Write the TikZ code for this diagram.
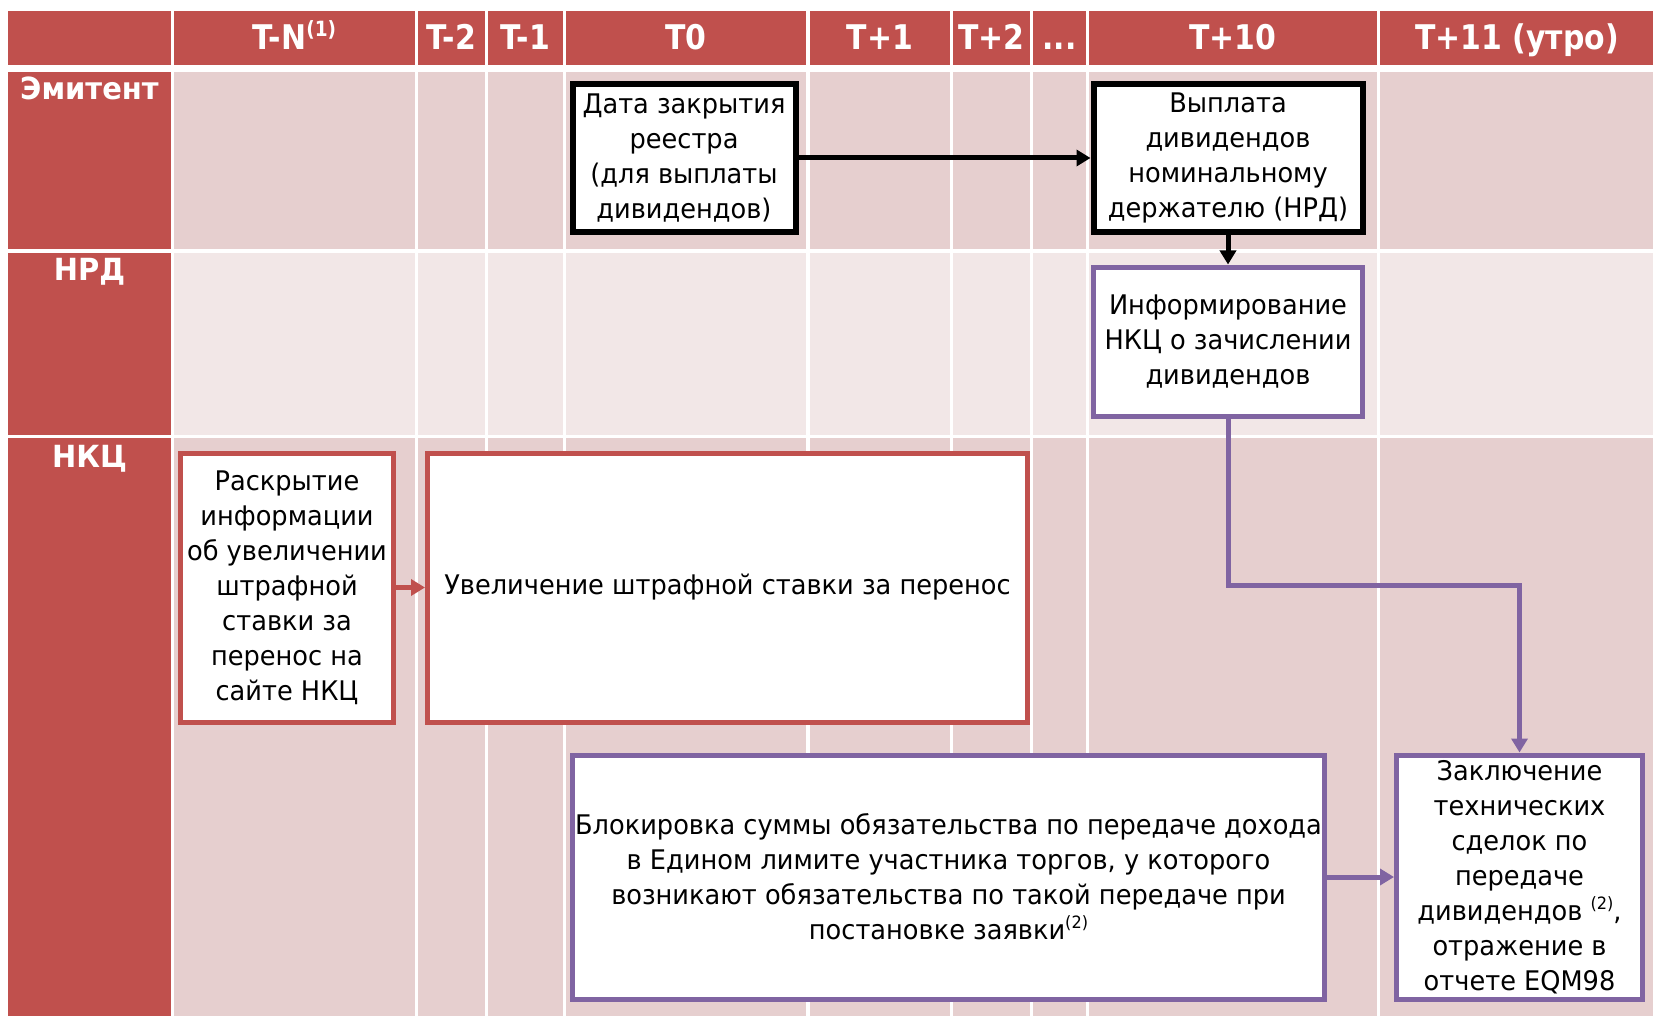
\documentclass[tikz,border=0pt]{standalone}
\usepackage{fontspec}
\setmainfont{DejaVu Sans}[FakeStretch=0.95]
\newfontfamily\hdrfont{DejaVu Sans}[FakeStretch=0.88]
\usetikzlibrary{arrows.meta}
\definecolor{hdr}{HTML}{C0504D}
\definecolor{cellA}{HTML}{E6CFCF}
\definecolor{cellB}{HTML}{F2E7E7}
\definecolor{purp}{HTML}{8064A2}
\definecolor{redb}{HTML}{C0504D}
\newcommand\supnum[2]{\raisebox{#2}{\fontsize{#1}{#1}\selectfont (2)}}
\newcommand\supone{\raisebox{13pt}{\fontsize{21}{21}\selectfont (1)}}
\begin{document}
\begin{tikzpicture}[x=1pt,y=-1pt,
  hdrtext/.style={text=white, font=\hdrfont\bfseries\fontsize{34}{36}\selectfont, anchor=base, inner sep=0pt},
  rowlab/.style={text=white, font=\bfseries\fontsize{30.5}{34}\selectfont, anchor=base, inner sep=0pt},
  boxbase/.style={rectangle, fill=white, line width=5pt, align=center, inner sep=0pt, font=\fontsize{27}{35}\selectfont, text=black},
  blackbox/.style={boxbase, draw=black, line width=6pt},
  purplebox/.style={boxbase, draw=purp},
  redbox/.style={boxbase, draw=redb},
  arrowhd/.style={-{Triangle[length=14pt,width=16pt]}},
]
\useasboundingbox (0,0) rectangle (1653,1016);
\fill[white] (0,0) rectangle (1653,1016);
% header row and row label column
\fill[hdr] (8,11) rectangle (171,65);
\fill[hdr] (8,72) rectangle (171,249);
\fill[hdr] (8,253) rectangle (171,435);
\fill[hdr] (8,438) rectangle (171,1016);
\foreach \l/\r in {174/415,418/485,488/563,566/806,810/950,953/1030,1033/1086,1089/1377,1380/1653}{
  \fill[hdr] (\l,11) rectangle (\r,65);
  \fill[cellA] (\l,72) rectangle (\r,249);
  \fill[cellB] (\l,253) rectangle (\r,435);
  \fill[cellA] (\l,438) rectangle (\r,1016);
}
% header labels
\node[hdrtext] (hTN) at (294.5,50) {T-N\supone};
\node[hdrtext] (hT2) at (451.5,50) {T-2};
\node[hdrtext] (hT1) at (525.5,50) {T-1};
\node[hdrtext] (hT0) at (686,50) {T0};
\node[hdrtext] (hTp1) at (880,50) {T+1};
\node[hdrtext] (hTp2) at (991.5,50) {T+2};
\node[hdrtext] (hdots) at (1059.5,50) {...};
\node[hdrtext] (hTp10) at (1233,50) {T+10};
\node[hdrtext] (hTp11) at (1517,50) {T+11 (утро)};
% row labels
\node[rowlab] (rEm) at (89.5,100) {Эмитент};
\node[rowlab] (rNRD) at (89.5,280) {НРД};
\node[rowlab] (rNKC) at (89.5,467) {НКЦ};
% boxes
\node[blackbox, minimum width=223pt, minimum height=148pt] (close) at (684,158)
  {Дата закрытия\\реестра\\(для выплаты\\дивидендов)};
\node[blackbox, minimum width=269pt, minimum height=148pt] (pay) at (1228,158)
  {Выплата\\дивидендов\\номинальному\\держателю (НРД)};
\node[purplebox, minimum width=269pt, minimum height=149pt] (inform) at (1228,341.5)
  {Информирование\\НКЦ о зачислении\\дивидендов};
\node[redbox, minimum width=213pt, minimum height=269pt] (disc) at (287,587.5)
  {Раскрытие\\информации\\об увеличении\\штрафной\\ставки за\\перенос на\\сайте НКЦ};
\node[redbox, minimum width=600pt, minimum height=269pt] (rate) at (727.5,587.5)
  {Увеличение штрафной ставки за перенос};
\node[purplebox, minimum width=752pt, minimum height=244pt] (block) at (948.5,877)
  {Блокировка суммы обязательства по передаче дохода\\в Едином лимите участника торгов, у которого\\возникают обязательства по такой передаче при\\постановке заявки\supnum{17}{11pt}};
\node[purplebox, minimum width=246pt, minimum height=244pt] (deal) at (1519.5,877)
  {Заключение\\технических\\сделок по\\передаче\\дивидендов \supnum{17}{11pt},\\отражение в\\отчете EQM98};
% connectors
\draw[arrowhd, line width=5pt, black] (close.east) -- (pay.west);
\draw[arrowhd, line width=5pt, black] (pay.south) -- (inform.north);
\draw[arrowhd, line width=5pt, redb] (disc.east) -- (rate.west);
\coordinate (bendA) at (1228,585);
\coordinate (bendB) at (1519.5,585);
\draw[arrowhd, line width=5pt, purp] (inform.south) -- (bendA) -- (bendB) -- (deal.north);
\draw[arrowhd, line width=5pt, purp] (block.east) -- (deal.west);
\end{tikzpicture}
\end{document}
